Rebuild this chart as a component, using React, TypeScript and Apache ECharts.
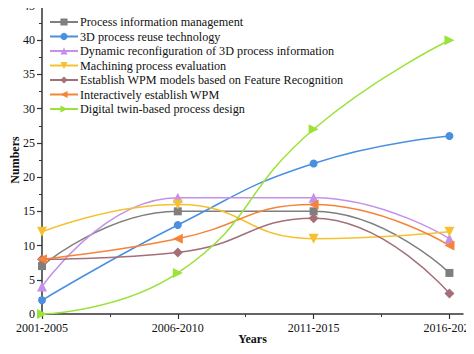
import React, { useEffect, useRef } from "react";
import * as echarts from "echarts";

const categories = ["2001-2005", "2006-2010", "2011-2015", "2016-2021"];
const processInfo = [7, 15, 15, 6];
const reuse3D = [2, 13, 22, 26];
const dynamicReconf = [4, 17, 17, 11];
const machiningEval = [12, 16, 11, 12];
const wpmFeature = [8, 9, 14, 3];
const interactiveWPM = [8, 11, 16, 10];
const digitalTwin = [0, 6, 27, 40];

const seriesDefs = [
  { name: "Process information management", data: processInfo, color: "#7f7f7f", symbol: "rect", rotate: 0 },
  { name: "3D process reuse technology", data: reuse3D, color: "#4a8fe0", symbol: "circle", rotate: 0 },
  { name: "Dynamic reconfiguration of 3D process information", data: dynamicReconf, color: "#c491ea", symbol: "triangle", rotate: 0 },
  { name: "Machining process evaluation", data: machiningEval, color: "#f6c131", symbol: "triangle", rotate: 180 },
  { name: "Establish WPM models based on Feature Recognition", data: wpmFeature, color: "#a56f78", symbol: "diamond", rotate: 0 },
  { name: "Interactively establish WPM", data: interactiveWPM, color: "#f5843a", symbol: "triangle", rotate: 90 },
  { name: "Digital twin-based process design", data: digitalTwin, color: "#9be23a", symbol: "triangle", rotate: -90 },
];

const FONT = "'Times New Roman', 'Liberation Serif', serif";

export default function App() {
  const ref = useRef<HTMLDivElement>(null);
  useEffect(() => {
    if (!ref.current) return;
    const chart = echarts.init(ref.current, undefined, { renderer: "svg" });
    chart.setOption({
      animation: false,
      textStyle: { fontFamily: FONT },
      grid: { left: 42, right: 11, top: 6, bottom: 40, outerBoundsMode: "none", containLabel: false },
      legend: {
        orient: "vertical",
        left: 49,
        top: 16,
        padding: 0,
        itemGap: 2.5,
        itemWidth: 28,
        itemHeight: 9,
        textStyle: { fontFamily: FONT, fontSize: 12.2, color: "#111", padding: [0, 0, 0, -3] },
        data: seriesDefs.map((s) => s.name),
      },
      xAxis: {
        type: "value",
        min: 0,
        max: 3.1,
        interval: 1,
        name: "Years",
        nameLocation: "middle",
        nameGap: 19,
        nameMoveOverlap: false,
        nameTextStyle: { fontFamily: FONT, fontWeight: "bold", fontSize: 12, color: "#111" },
        axisLine: { lineStyle: { color: "#333", width: 1.5 } },
        axisTick: { show: true, length: 5, customValues: [0, 1, 2, 3], lineStyle: { color: "#333", width: 1.2 } },
        minorTick: { show: true, splitNumber: 2, length: 3, lineStyle: { color: "#333" } },
        splitLine: { show: false },
        axisLabel: {
          fontFamily: FONT,
          fontSize: 12,
          color: "#111",
          margin: 8,
          customValues: [0, 1, 2, 3],
          formatter: (v: number) => categories[Math.round(v)] ?? "",
        },
      },
      yAxis: {
        type: "value",
        min: 0,
        max: 45,
        interval: 5,
        name: "Numbers",
        nameLocation: "middle",
        nameGap: 21,
        nameMoveOverlap: false,
        nameTextStyle: { fontFamily: FONT, fontWeight: "bold", fontSize: 12, color: "#111" },
        axisLine: { show: true, lineStyle: { color: "#333", width: 1.5 } },
        axisTick: { show: true, length: 5, lineStyle: { color: "#333", width: 1.2 } },
        minorTick: { show: true, splitNumber: 2, length: 3, lineStyle: { color: "#333" } },
        splitLine: { show: false },
        axisLabel: { fontFamily: FONT, fontSize: 12, color: "#111", margin: 7 },
      },
      series: seriesDefs.map((s) => ({
        type: "line",
        name: s.name,
        data: s.data.map((v, i) => [i, v]),
        smooth: 0.5,
        symbol: s.symbol,
        symbolRotate: s.rotate,
        symbolSize: s.symbol === "rect" ? 8 : s.symbol === "circle" ? 8 : 10,
        itemStyle: { color: s.color },
        lineStyle: { color: s.color, width: 1.5 },
      })),
    });
    return () => chart.dispose();
  }, []);
  return <div ref={ref} style={{ width: 474, height: 354, margin: -8 }} />;
}
